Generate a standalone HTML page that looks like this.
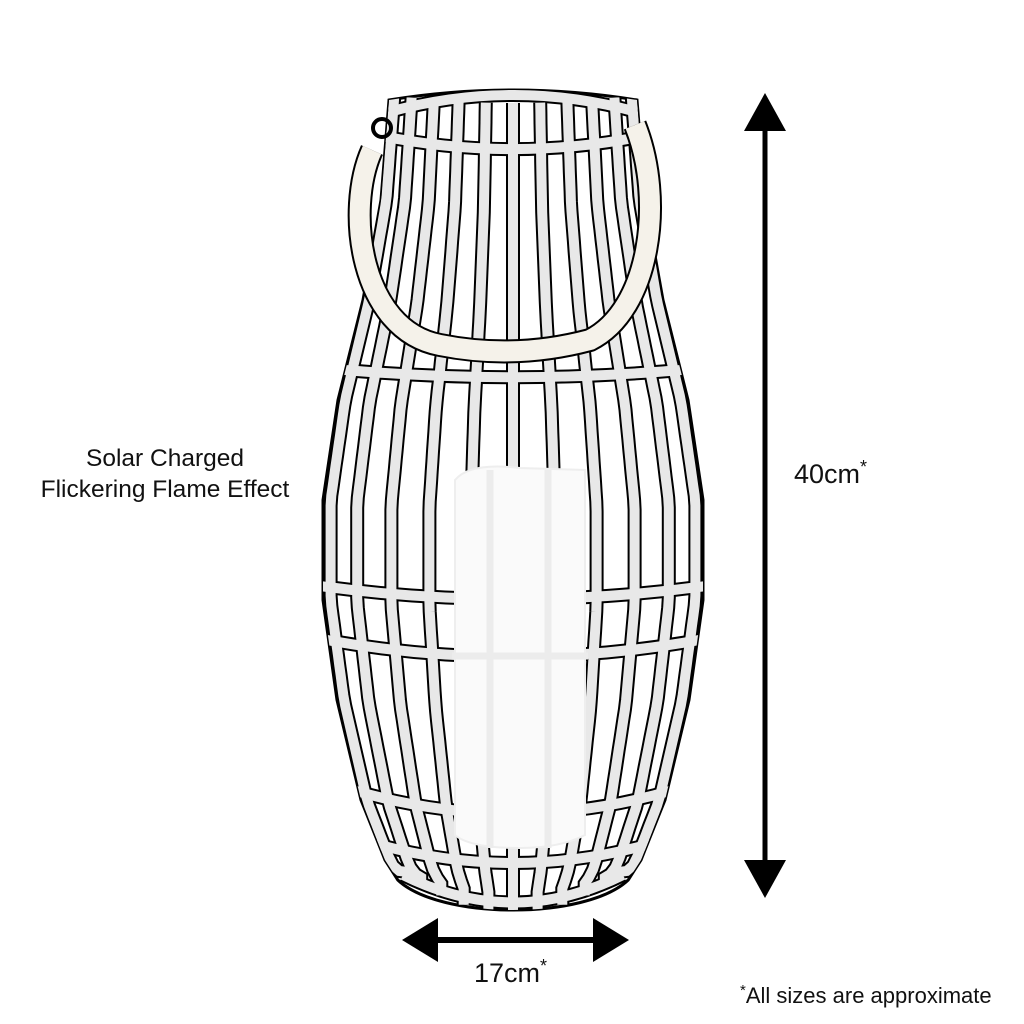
<!DOCTYPE html>
<html><head><meta charset="utf-8"><style>
html,body{margin:0;padding:0;background:#fff}
svg{display:block}
text{font-family:"Liberation Sans",sans-serif;fill:#111}
</style></head><body>
<svg id="s" width="1024" height="1024" viewBox="0 0 1024 1024" xmlns="http://www.w3.org/2000/svg">
<g id="lan"></g>
<line x1="765" y1="125" x2="765" y2="865" stroke="#000" stroke-width="5"/>
<polygon points="765,93 744,131 786,131" fill="#000"/>
<polygon points="765,898 744,860 786,860" fill="#000"/>
<line x1="432" y1="940" x2="598" y2="940" stroke="#000" stroke-width="6"/>
<polygon points="402,940 438,918 438,962" fill="#000"/>
<polygon points="629,940 593,918 593,962" fill="#000"/>
<text x="165" y="466" font-size="24.5" text-anchor="middle">Solar Charged</text>
<text x="165" y="497" font-size="24.5" text-anchor="middle">Flickering Flame Effect</text>
<text x="794" y="483" font-size="27">40cm<tspan font-size="18" dy="-10">*</tspan></text>
<text x="474" y="982" font-size="27">17cm<tspan font-size="18" dy="-10">*</tspan></text>
<text x="740" y="1003" font-size="22"><tspan font-size="15" dy="-8">*</tspan><tspan dy="8">All sizes are approximate</tspan></text>
</svg>
<script>
var NS="http://www.w3.org/2000/svg",g=document.getElementById('lan');
function el(t,a){var e=document.createElementNS(NS,t);for(var k in a)e.setAttribute(k,a[k]);g.appendChild(e);return e;}
var prof=[[100,124],[200,132],[300,150],[400,175],[500,190],[600,190],[700,176],[800,152],[860,128],[885,112]];
function w(y){for(var i=0;i<prof.length-1;i++){var a=prof[i],b=prof[i+1];if(y<=b[0]){return a[1]+(b[1]-a[1])*(y-a[0])/(b[0]-a[0]);}}return 112;}
var cx=513;
var L=[],R=[];for(var y=100;y<=880;y+=10){L.push([cx-w(y),y]);R.push([cx+w(y),y]);}
var d="M"+L.map(p=>p.join(",")).join(" L")+" C440,920 586,920 "+R.slice().reverse().map(p=>p.join(",")).join(" L")+" Q513,80 "+L[0].join(",")+"Z";
el('path',{d:d,fill:'#fff',stroke:'#000','stroke-width':3});
var cp=document.createElementNS(NS,'clipPath');cp.id='c';var cpp=document.createElementNS(NS,'path');cpp.setAttribute('d',d);cp.appendChild(cpp);g.appendChild(cp);
var gg=document.createElementNS(NS,'g');gg.setAttribute('clip-path','url(#c)');g.appendChild(gg);
function ad(t,a){var e=document.createElementNS(NS,t);for(var k in a)e.setAttribute(k,a[k]);gg.appendChild(e);return e;}
var paths=[];
var S=[-0.96,-0.82,-0.64,-0.44,-0.22,0.0,0.22,0.44,0.64,0.82,0.96];
S.forEach(function(s){var pts=[];for(var y=95;y<=905;y+=10){var yy=y;var ww=w(Math.min(y,885));if(y>870){yy=870+(y-870)*(1-s*s);} pts.push([cx+ww*s,yy+(1-s*s)*8]);}paths.push("M"+pts.map(p=>p.map(v=>v.toFixed(1)).join(",")).join(" L"));});
[[140,14],[372,8],[590,14],[645,18],[798,24],[850,20]].forEach(function(r){var y=r[0],hw=w(y)+5;paths.push("M"+(cx-hw)+","+(y-r[1]*0.3)+" Q"+cx+","+(y+r[1]*1.6)+" "+(cx+hw)+","+(y-r[1]*0.3));});
paths.push("M"+(cx-124)+",112 Q513,78 "+(cx+124)+",112");
paths.push("M"+(cx-110)+",875 Q513,930 "+(cx+110)+",875");
paths.forEach(p=>ad('path',{d:p,fill:'none',stroke:'#000','stroke-width':14}));
paths.forEach(p=>ad('path',{d:p,fill:'none',stroke:'#e8e8e8','stroke-width':10}));
ad('path',{d:"M455,480 Q470,462 520,468 L585,470 L585,835 Q560,848 520,848 Q470,848 455,835 Z",fill:'#fafafa',stroke:'#eee','stroke-width':2});
ad('line',{x1:490,y1:470,x2:490,y2:848,stroke:'#ececec','stroke-width':7});
ad('line',{x1:548,y1:470,x2:548,y2:848,stroke:'#ececec','stroke-width':7});
ad('line',{x1:452,y1:656,x2:588,y2:656,stroke:'#ececec','stroke-width':7});
var rope="M372,150 C345,210 360,330 440,345 Q515,360 590,340 C650,310 665,200 635,125";
el('path',{d:rope,fill:'none',stroke:'#000','stroke-width':24});
el('path',{d:rope,fill:'none',stroke:'#f5f2ea','stroke-width':20});
el('circle',{cx:382,cy:128,r:9,fill:'none',stroke:'#000','stroke-width':4});
</script>
</body></html>
